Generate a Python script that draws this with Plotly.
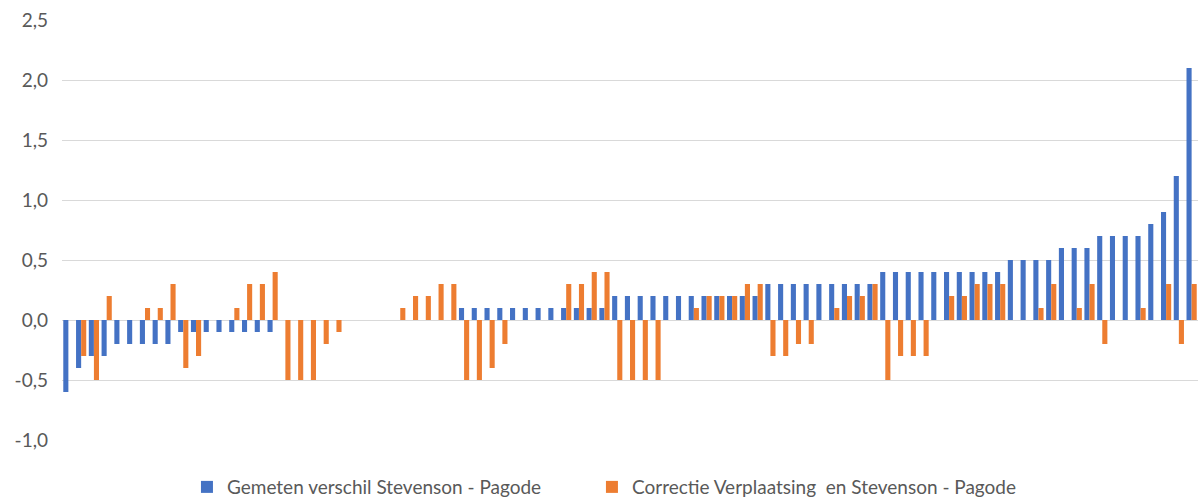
import plotly.graph_objects as go

categories = list(range(1, 90))

gemeten = [
    -0.6, -0.4, -0.3, -0.3, -0.2, -0.2, -0.2, -0.2, -0.2, -0.1,
    -0.1, -0.1, -0.1, -0.1, -0.1, -0.1, -0.1, 0.0, 0.0, 0.0,
    0.0, 0.0, 0.0, 0.0, 0.0, 0.0, 0.0, 0.0, 0.0, 0.0,
    0.0, 0.1, 0.1, 0.1, 0.1, 0.1, 0.1, 0.1, 0.1, 0.1,
    0.1, 0.1, 0.1, 0.2, 0.2, 0.2, 0.2, 0.2, 0.2, 0.2,
    0.2, 0.2, 0.2, 0.2, 0.2, 0.3, 0.3, 0.3, 0.3, 0.3,
    0.3, 0.3, 0.3, 0.3, 0.4, 0.4, 0.4, 0.4, 0.4, 0.4,
    0.4, 0.4, 0.4, 0.4, 0.5, 0.5, 0.5, 0.5, 0.6, 0.6,
    0.6, 0.7, 0.7, 0.7, 0.7, 0.8, 0.9, 1.2, 2.1,
]

correctie = [
    0.0, -0.3, -0.5, 0.2, 0.0, 0.0, 0.1, 0.1, 0.3, -0.4,
    -0.3, 0.0, 0.0, 0.1, 0.3, 0.3, 0.4, -0.5, -0.5, -0.5,
    -0.2, -0.1, 0.0, 0.0, 0.0, 0.0, 0.1, 0.2, 0.2, 0.3,
    0.3, -0.5, -0.5, -0.4, -0.2, 0.0, 0.0, 0.0, 0.0, 0.3,
    0.3, 0.4, 0.4, -0.5, -0.5, -0.5, -0.5, 0.0, 0.0, 0.1,
    0.2, 0.2, 0.2, 0.3, 0.3, -0.3, -0.3, -0.2, -0.2, 0.0,
    0.1, 0.2, 0.2, 0.3, -0.5, -0.3, -0.3, -0.3, 0.0, 0.2,
    0.2, 0.3, 0.3, 0.3, 0.0, 0.0, 0.1, 0.3, 0.0, 0.1,
    0.3, -0.2, 0.0, 0.0, 0.1, 0.0, 0.3, -0.2, 0.3,
]

y_ticks = [-1.0, -0.5, 0.0, 0.5, 1.0, 1.5, 2.0, 2.5]
y_tick_labels = ["-1,0", "-0,5", "0,0", "0,5", "1,0", "1,5", "2,0", "2,5"]

series_names = [
    "Gemeten verschil Stevenson - Pagode",
    "Correctie Verplaatsing  en Stevenson - Pagode",
]

FONT = "Lato, Arial, sans-serif"

fig = go.Figure()
fig.add_trace(go.Bar(x=categories, y=gemeten, name=series_names[0],
                     marker=dict(color="#4472C4", line=dict(width=0)),
                     legend="legend"))
fig.add_trace(go.Bar(x=categories, y=correctie, name=series_names[1],
                     marker=dict(color="#ED7D31", line=dict(width=0)),
                     legend="legend2"))

legend_common = dict(orientation="h", xanchor="left", y=-0.112, yanchor="middle",
                     font=dict(family=FONT, size=19, color="#595959"),
                     itemwidth=30, bgcolor="rgba(0,0,0,0)")

fig.update_layout(
    width=1198, height=497,
    margin=dict(l=62, r=0, t=20, b=57, autoexpand=False),
    paper_bgcolor="white", plot_bgcolor="white",
    barmode="group", bargap=0.2, bargroupgap=0,
    font=dict(family=FONT, color="#595959", size=18),
    showlegend=True,
    legend=dict(x=0.110, **legend_common),
    legend2=dict(x=0.4665, **legend_common),
    xaxis=dict(type="category", showticklabels=False, showgrid=False,
               zeroline=False, showline=False, ticks="",
               range=[-0.5, len(categories) - 0.5], fixedrange=True),
    yaxis=dict(range=[-1.0, 2.5], tickvals=y_ticks, ticktext=y_tick_labels,
               showgrid=True, gridcolor="#D9D9D9", gridwidth=1,
               zeroline=True, zerolinecolor="#D9D9D9", zerolinewidth=1,
               showline=False, ticks="", ticklabelstandoff=13,
               tickfont=dict(family=FONT, size=19, color="#595959")),
)

fig.write_html(
    "out.html",
    config={"displayModeBar": False},
    post_script="document.body.style.margin='0';document.body.style.overflow='hidden';",
)
